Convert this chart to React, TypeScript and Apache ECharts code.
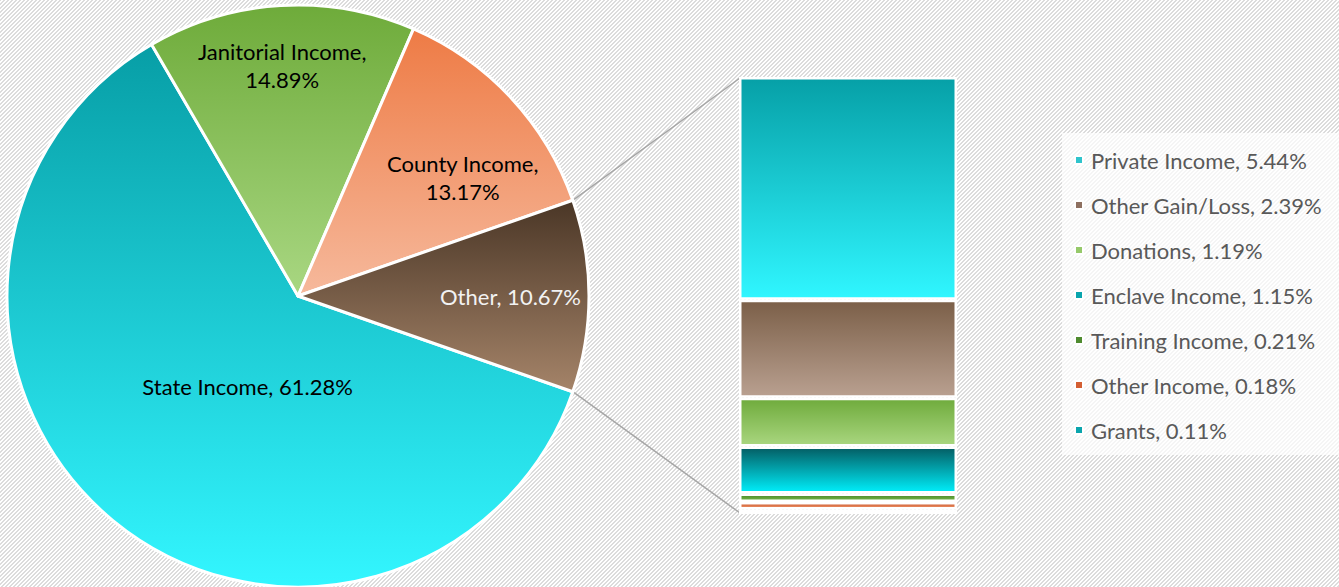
import React, { useEffect, useRef } from "react";
import * as echarts from "echarts";

// ---- data ----
const pieNames = ["State Income", "Janitorial Income", "County Income", "Other"];
const pieValues = [61.28, 14.89, 13.17, 10.67];
const subNames = [
  "Private Income",
  "Other Gain/Loss",
  "Donations",
  "Enclave Income",
  "Training Income",
  "Other Income",
  "Grants",
];
const subValues = [5.44, 2.39, 1.19, 1.15, 0.21, 0.18, 0.11];

// ---- styles ----
const pieGradients = [
  ["#079ea6", "#33f6ff"],
  ["#6eab3a", "#a9d782"],
  ["#ee7b45", "#f6b99c"],
  ["#4a3626", "#a58469"],
];
const pieLabelColors = ["#000000", "#000000", "#000000", "#f2f2f2"];
const pieLabelBreak = [false, true, true, false];
const pieLabelOffsets = [
  [44, -24],
  [-7, -82],
  [56, -17],
  [64, 0],
];
const subGradients = [
  ["#06a0a7", "#30f6ff"],
  ["#7b5f48", "#b9a090"],
  ["#6fab3c", "#a9d67f"],
  ["#045d63", "#00eefa"],
  ["#4b8a2a", "#79b94a"],
  ["#c9562a", "#f29a70"],
  ["#bfe8ec", "#d6f3f6"],
];
const legendColors = ["#2fc4cc", "#8e7060", "#96c96a", "#0aa5ad", "#4f8b2f", "#d45f33", "#0aa5ad"];

const CX = 298;
const CY = 296;
const R = 291;
const GL = 739;
const GT = 77;
const GW = 218;
const GH = 437;
const FONT = "Lato";

const stripeSvg =
  "<svg xmlns='http://www.w3.org/2000/svg' width='4' height='4' shape-rendering='crispEdges'>" +
  "<rect width='4' height='4' fill='#ffffff'/>" +
  "<path d='M3 0h1v1h-1zM0 0h1v1h-1zM2 1h2v1h-2zM1 2h2v1h-2zM0 3h2v1h-2z' fill='#dcdcdc'/></svg>";
const stripeUrl = `url("data:image/svg+xml,${encodeURIComponent(stripeSvg)}")`;

const grad = (c: string[]) =>
  new echarts.graphic.LinearGradient(0, 0, 0, 1, [
    { offset: 0, color: c[0] },
    { offset: 1, color: c[1] },
  ]);

export default function App() {
  const ref = useRef<HTMLDivElement>(null);

  useEffect(() => {
    document.body.style.margin = "0";
    if (!ref.current) return;
    const chart = echarts.init(ref.current, undefined, { renderer: "svg" });

    const pieSum = pieValues.reduce((a, b) => a + b, 0);
    const subSum = subValues.reduce((a, b) => a + b, 0);
    const otherIdx = pieNames.length - 1;
    const half = ((pieValues[otherIdx] / pieSum) * 360) / 2;
    const halfRad = (half * Math.PI) / 180;
    const px = CX + R * Math.cos(halfRad);
    const pyTop = CY - R * Math.sin(halfRad);
    const pyBot = CY + R * Math.sin(halfRad);

    const barSeries: any[] = [];
    for (let i = subNames.length - 1; i >= 0; i--) {
      barSeries.push({
        type: "bar",
        name: subNames[i],
        stack: "other",
        barWidth: "100%",
        data: [subValues[i]],
        itemStyle: { color: grad(subGradients[i]), borderColor: "#ffffff", borderWidth: 2.5 },
        emphasis: { disabled: true },
      });
    }

    const option: any = {
      animation: false,
      textStyle: { fontFamily: FONT },
      legend: {
        orient: "vertical",
        left: 1062,
        top: 133,
        padding: [16, 32, 14, 12],
        itemGap: 23,
        itemWidth: 8,
        itemHeight: 8,
        icon: "rect",
        backgroundColor: "rgba(255,255,255,0.7)",
        data: subNames.map((n, i) => ({ name: n, itemStyle: { color: legendColors[i] } })),
        formatter: (n: string) => `${n}, ${subValues[subNames.indexOf(n)].toFixed(2)}%`,
        textStyle: { color: "#595959", fontSize: 22, fontFamily: FONT, padding: [0, 0, 0, 3] },
        selectedMode: false,
      },
      grid: { left: GL, top: GT, width: GW, height: GH },
      xAxis: { type: "category", data: ["Other"], show: false },
      yAxis: { type: "value", min: 0, max: subSum, show: false },
      series: [
        {
          type: "pie",
          center: [CX, CY],
          radius: R,
          startAngle: 360 - half,
          clockwise: true,
          emphasis: { disabled: true },
          itemStyle: { borderColor: "#ffffff", borderWidth: 3 },
          label: {
            show: true,
            position: "inside",
            fontSize: 22,
            lineHeight: 28,
            fontFamily: FONT,
          },
          labelLayout: (p: any) => ({
            dx: pieLabelOffsets[p.dataIndex][0],
            dy: pieLabelOffsets[p.dataIndex][1],
          }),
          data: pieNames.map((n, i) => ({
            name: n,
            value: pieValues[i],
            itemStyle: { color: grad(pieGradients[i]) },
            label: {
              color: pieLabelColors[i],
              formatter: `${n},${pieLabelBreak[i] ? "\n" : " "}${pieValues[i].toFixed(2)}%`,
            },
          })),
        },
        ...barSeries,
      ],
      graphic: [
        {
          type: "line",
          shape: { x1: px, y1: pyTop, x2: GL + 1, y2: GT + 1 },
          style: { stroke: "#a6a6a6", lineWidth: 1.5 },
          silent: true,
        },
        {
          type: "line",
          shape: { x1: px, y1: pyBot, x2: GL + 1, y2: GT + GH - 1 },
          style: { stroke: "#a6a6a6", lineWidth: 1.5 },
          silent: true,
        },
      ],
    };

    chart.setOption(option);
    return () => chart.dispose();
  }, []);

  return (
    <div
      ref={ref}
      style={{
        width: 1339,
        height: 587,
        backgroundColor: "#ffffff",
        backgroundImage: stripeUrl,
        backgroundSize: "4px 4px",
        backgroundRepeat: "repeat",
      }}
    />
  );
}
